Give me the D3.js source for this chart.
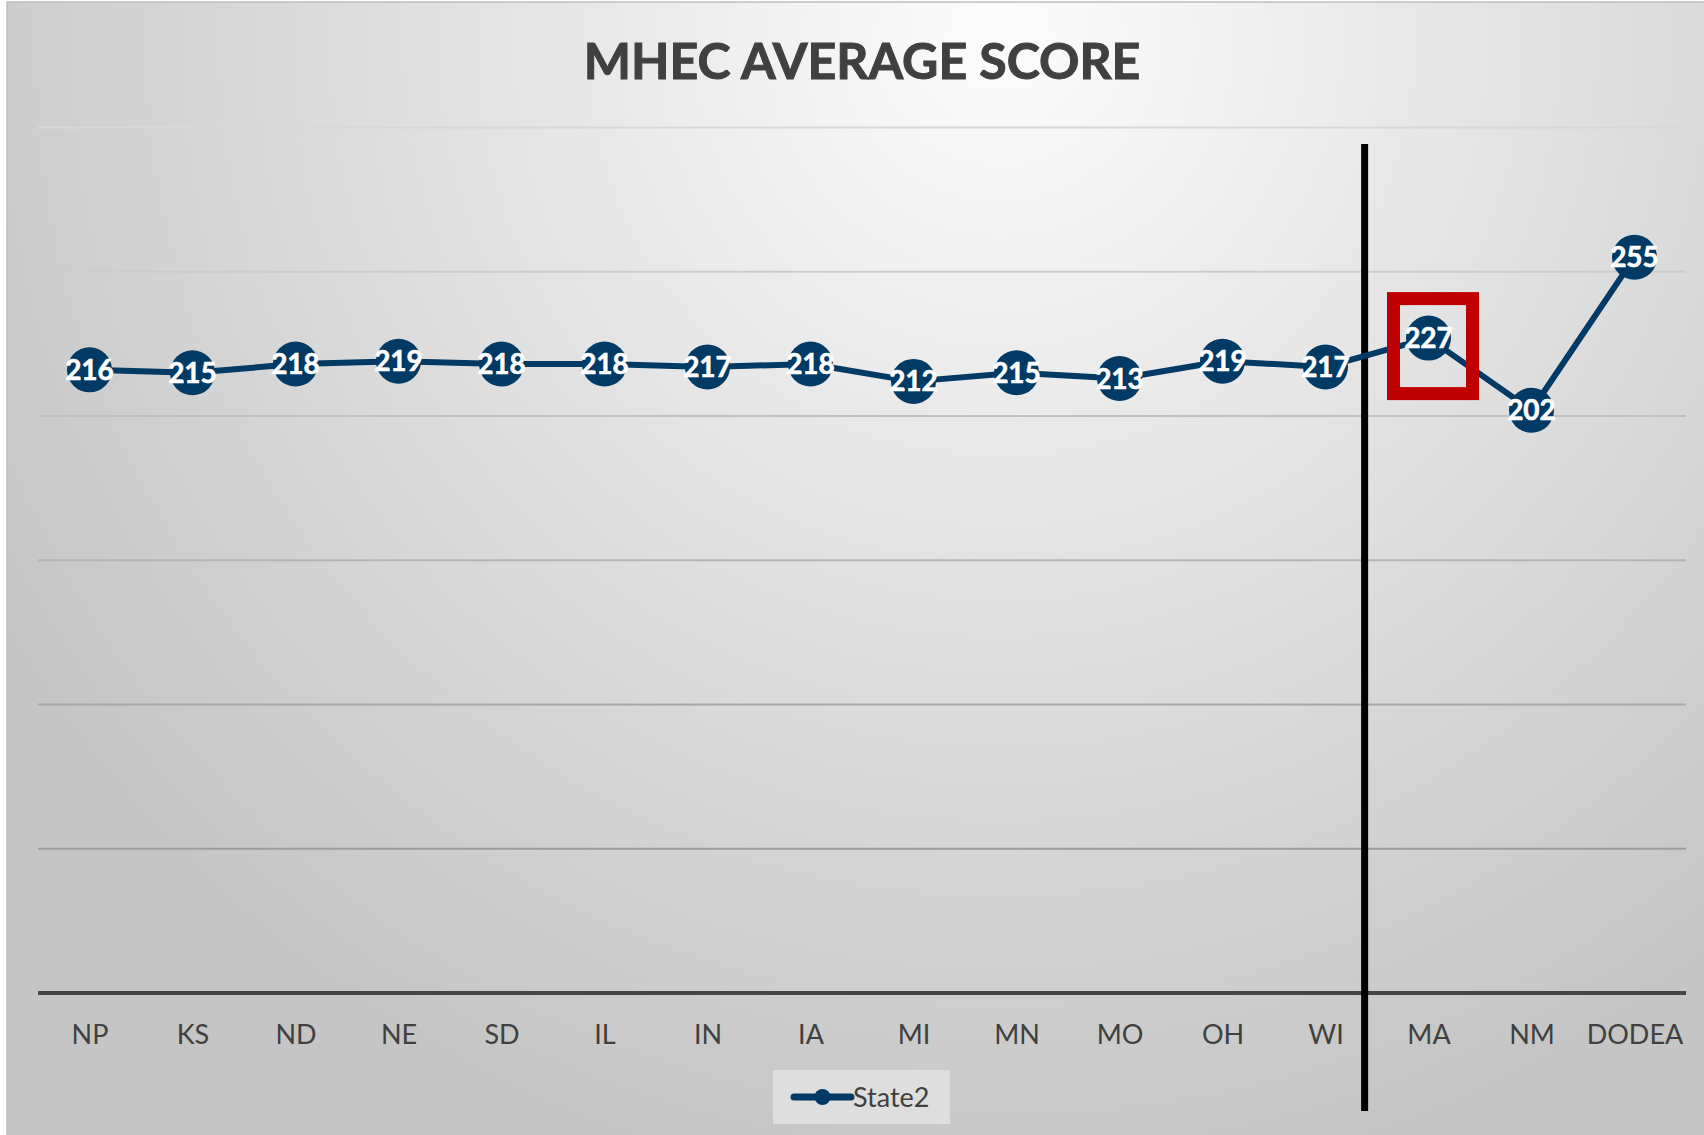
<!DOCTYPE html>
<html>
<head>
<meta charset="utf-8">
<script src="https://cdn.jsdelivr.net/npm/d3@7"></script>
<style>
  html, body { margin: 0; padding: 0; background: #ffffff; }
  svg { display: block; }
</style>
</head>
<body>
<svg id="chart" width="1704" height="1135"></svg>
<script>
// ---- data ----
const categories = ["NP","KS","ND","NE","SD","IL","IN","IA","MI","MN","MO","OH","WI","MA","NM","DODEA"];
const values = [216,215,218,219,218,218,217,218,212,215,213,219,217,227,202,255];
const seriesName = "State2";
const title = "MHEC AVERAGE SCORE";
const yTicks = [0,50,100,150,200,250,300];
const highlightCategory = "MA";
const dividerAfter = "WI";

// ---- layout ----
const W = 1704, H = 1135;
const plot = { left: 38, right: 1686, top: 127.5, bottom: 993 };
const font = "Lato, 'Open Sans', sans-serif";
const lineColor = "#003a65";

const svg = d3.select("#chart");
const defs = svg.append("defs");
const grad = defs.append("radialGradient")
  .attr("id", "bg")
  .attr("gradientUnits", "userSpaceOnUse")
  .attr("cx", 1000).attr("cy", 40).attr("r", 1150);
grad.append("stop").attr("offset", 0).attr("stop-color", "#fcfcfc");
grad.append("stop").attr("offset", 0.45).attr("stop-color", "#e3e3e3");
grad.append("stop").attr("offset", 1).attr("stop-color", "#c5c5c5");

svg.append("rect").attr("x", 0).attr("y", 0).attr("width", W).attr("height", H).attr("fill", "#ffffff");
svg.append("rect").attr("x", 7).attr("y", 2).attr("width", W + 10).attr("height", H + 10)
  .attr("fill", "url(#bg)").attr("stroke", "#bdbdbd").attr("stroke-width", 1.5);

const x = d3.scalePoint().domain(categories).range([plot.left, plot.right]).padding(0.5);
const y = d3.scaleLinear().domain([0, 300]).range([plot.bottom, plot.top]);

// gridlines
const gridColor = d3.scaleLinear().domain([300, 50]).range(["#d8d8d8", "#9c9c9c"]);
svg.append("g").selectAll("line")
  .data(yTicks.filter(t => t > 0))
  .join("line")
  .attr("x1", plot.left).attr("x2", plot.right)
  .attr("y1", d => y(d)).attr("y2", d => y(d))
  .attr("stroke", d => gridColor(d)).attr("stroke-width", 2);

// x axis
const xAxis = svg.append("g")
  .attr("transform", `translate(0,${y(0)})`)
  .call(d3.axisBottom(x).tickSize(0).tickPadding(0));
xAxis.select(".domain").remove();
xAxis.append("line")
  .attr("x1", plot.left).attr("x2", plot.right)
  .attr("y1", 0).attr("y2", 0)
  .attr("stroke", "#454545").attr("stroke-width", 4);
xAxis.selectAll(".tick text")
  .attr("y", 51).attr("dy", 0)
  .attr("fill", "#404040")
  .style("font-family", font).style("font-size", "27px");

// title
svg.append("text")
  .attr("x", 862).attr("y", 79)
  .attr("text-anchor", "middle")
  .attr("fill", "#404040")
  .attr("stroke", "#404040").attr("stroke-width", 1)
  .style("font-family", font).style("font-weight", "bold").style("font-size", "50px")
  .text(title);

// divider line
const step = x.step();
const divX = x(dividerAfter) + step * 0.38;
svg.append("line")
  .attr("x1", divX).attr("x2", divX)
  .attr("y1", 144).attr("y2", 1111)
  .attr("stroke", "#000000").attr("stroke-width", 7);

// series line
const data = categories.map((c, i) => ({ c, v: values[i] }));
svg.append("path")
  .datum(data)
  .attr("fill", "none")
  .attr("stroke", lineColor)
  .attr("stroke-width", 6)
  .attr("stroke-linejoin", "round")
  .attr("d", d3.line().x(d => x(d.c)).y(d => y(d.v)));

// markers
svg.append("g").selectAll("circle")
  .data(data)
  .join("circle")
  .attr("cx", d => x(d.c)).attr("cy", d => y(d.v))
  .attr("r", 22.5)
  .attr("fill", lineColor);

// highlight box
const hl = data.find(d => d.c === highlightCategory);
svg.append("rect")
  .attr("x", x(hl.c) - 35).attr("y", y(hl.v) - 39.5)
  .attr("width", 79).attr("height", 95)
  .attr("fill", "none")
  .attr("stroke", "#c00000").attr("stroke-width", 13);

// data labels
svg.append("g").selectAll("text")
  .data(data)
  .join("text")
  .attr("x", d => x(d.c)).attr("y", d => y(d.v))
  .attr("dy", "0.36em")
  .attr("text-anchor", "middle")
  .attr("fill", "#ffffff")
  .attr("stroke", "#ffffff").attr("stroke-width", 0.6)
  .style("font-family", font).style("font-weight", "bold").style("font-size", "28px")
  .text(d => d.v);

// legend
const lg = svg.append("g");
lg.append("rect").attr("x", 773).attr("y", 1070).attr("width", 177).attr("height", 54)
  .attr("fill", "#dedede");
lg.append("line").attr("x1", 794).attr("x2", 851).attr("y1", 1097).attr("y2", 1097)
  .attr("stroke", lineColor).attr("stroke-width", 7).attr("stroke-linecap", "round");
lg.append("circle").attr("cx", 822.5).attr("cy", 1097).attr("r", 8).attr("fill", lineColor);
lg.append("text").attr("x", 853).attr("y", 1106.5)
  .attr("fill", "#404040")
  .style("font-family", font).style("font-size", "27px")
  .text(seriesName);
</script>
</body>
</html>
